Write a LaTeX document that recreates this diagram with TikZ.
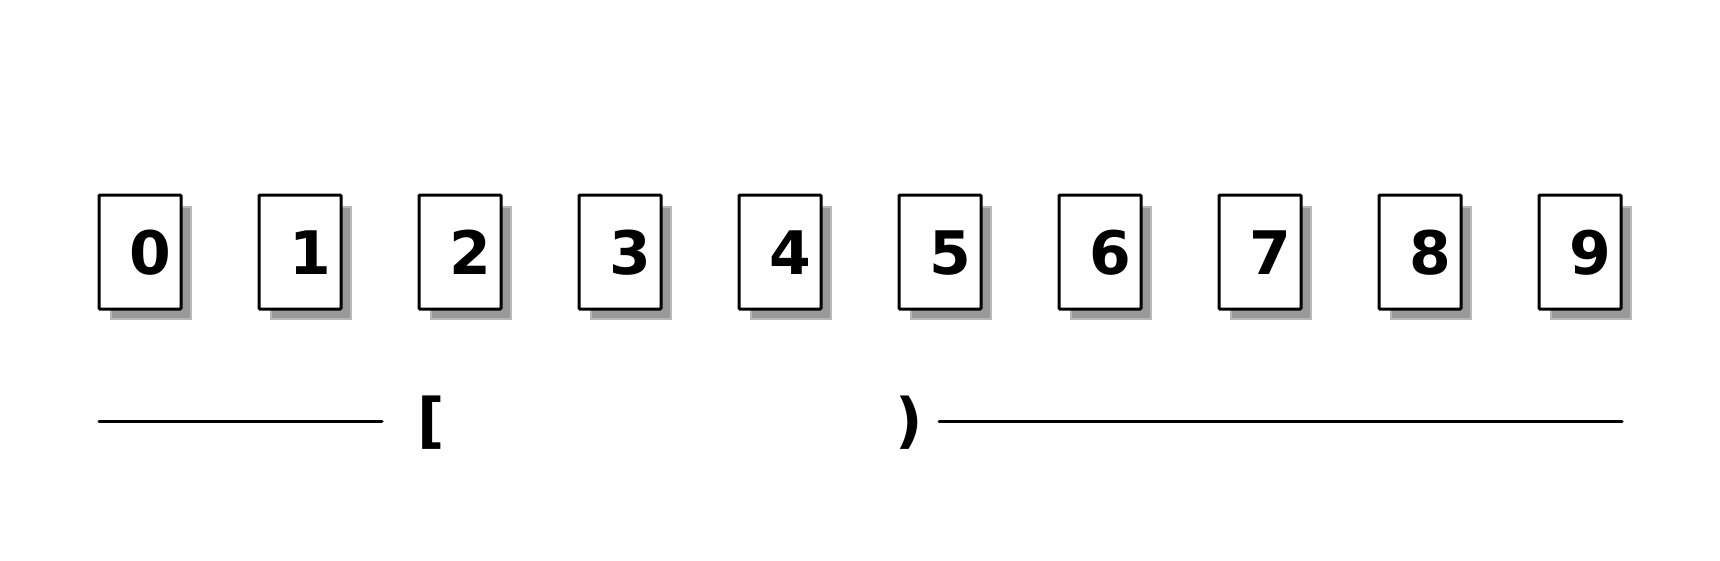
\documentclass[tikz,border=0pt]{standalone}
\usepackage{fontspec}
\setmainfont{DejaVu Sans}
\begin{document}
\begin{tikzpicture}[x=1pt,y=-1pt,
  cell/.style={draw=black,line width=3pt,fill=white,rounded corners=1pt,minimum width=82pt,minimum height=114pt,inner sep=0pt},
  cellshadow/.style={fill=black!40,draw=black!28,line width=2pt,minimum width=80pt,minimum height=112pt,inner sep=0pt},
  digit/.style={anchor=base,inner sep=0pt,font=\fontsize{60}{72}\selectfont\bfseries},
  rule/.style={line width=3pt,line cap=round}]
\useasboundingbox (0,0) rectangle (1720,560);
\fill[white] (0,0) rectangle (1720,560);
\foreach \i in {0,...,9}{
  \node[cellshadow] (s\i) at ({140+160*\i+11},{252+11}) {};
  \node[cell] (b\i) at ({140+160*\i},252) {};
  \node[digit] (t\i) at ({150+160*\i},274) {\i};
}
\coordinate (la) at (99,421);
\coordinate (lb) at (382,421);
\coordinate (ra) at (939,421);
\coordinate (rb) at (1622,421);
\draw[rule] (la) -- (lb);
\draw[rule] (ra) -- (rb);
\node[digit] (open) at (431,441) {[};
\node[digit] (close) at (909,441) {)};
\end{tikzpicture}
\end{document}
